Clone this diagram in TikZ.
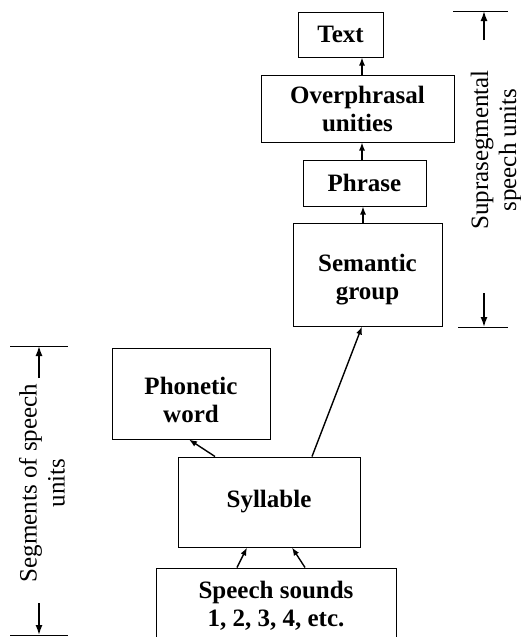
\documentclass[tikz,border=0pt]{standalone}
\usepackage{fontspec}
\setmainfont{Liberation Serif}
\usetikzlibrary{arrows.meta,calc}
\begin{document}
\begin{tikzpicture}[x=1pt,y=-1pt,
  box/.style={draw, line width=1pt, inner sep=0pt, align=center,
    font=\fontsize{25}{28}\selectfont\bfseries},
  link/.style={line width=1.4pt, -{Latex[length=8pt,width=6pt]}},
  dim/.style={line width=1.5pt, -{Latex[length=10pt,width=7pt]}},
  tick/.style={line width=1pt},
  side/.style={rotate=90, align=center, font=\fontsize{25}{28}\selectfont}]
\useasboundingbox (0,0) rectangle (521,637);
\begin{scope}
\clip (0,0) rectangle (521,637);
\node[box, minimum width=85pt, minimum height=45pt] (text) at (340.5,34.5) {Text};
\node[box, minimum width=193pt, minimum height=67pt] (over) at (357.5,108.5) {Overphrasal\\unities};
\node[box, minimum width=123pt, minimum height=46pt] (phrase) at (364.5,183) {Phrase};
\node[box, minimum width=149pt, minimum height=103pt] (sem) at (367.5,274.5) {\rule{0pt}{28pt}Semantic\\group};
\node[box, minimum width=158pt, minimum height=91pt] (phon) at (191,393.5) {\rule{0pt}{30pt}Phonetic\\word};
\node[box, minimum width=182pt, minimum height=90pt] (syl) at (269,502) {Syllable};
\node[box, minimum width=240pt, minimum height=76pt] (speech) at (276,606) {Speech sounds\\1, 2, 3, 4, etc.};
\end{scope}

\draw[link] ([xshift=4.5pt]over.north) -- ([xshift=21.5pt]text.south);
\draw[link] ([xshift=-2.5pt]phrase.north) -- ([xshift=4.5pt]over.south);
\draw[link] ([xshift=-4.5pt]sem.north) -- ([xshift=-1.5pt]phrase.south);
\draw[link] ([xshift=-54pt]syl.north) -- ([xshift=-2pt]phon.south);
\draw[link] ([xshift=43pt]syl.north) -- ([xshift=-5.5pt]sem.south);
\draw[link] ([xshift=-39pt]speech.north) -- ([xshift=-22pt]syl.south);
\draw[link] ([xshift=29pt]speech.north) -- ([xshift=23pt]syl.south);

% right dimension
\coordinate (rt1) at (453,11);
\coordinate (rt2) at (508,11);
\coordinate (rb1) at (458,327);
\coordinate (rb2) at (508,327);
\coordinate (ra) at (484,11);
\coordinate (ra0) at (484,40);
\coordinate (rb) at (484,327);
\coordinate (rb0) at (484,293);
\draw[tick] (rt1) -- (rt2);
\draw[tick] (rb1) -- (rb2);
\draw[dim] (ra0) -- (ra);
\draw[dim] (rb0) -- (rb);
\node[side] (supra) at (496,150) {Suprasegmental\\speech units};

% left dimension
\coordinate (lt1) at (10,346);
\coordinate (lt2) at (68,346);
\coordinate (lb1) at (10,635);
\coordinate (lb2) at (68,635);
\coordinate (la) at (39,346);
\coordinate (la0) at (39,378);
\coordinate (lb) at (39,635);
\coordinate (lb0) at (39,603);
\draw[tick] (lt1) -- (lt2);
\draw[tick] (lb1) -- (lb2);
\draw[dim] (la0) -- (la);
\draw[dim] (lb0) -- (lb);
\node[side] (segm) at (42,483) {Segments of speech\\units};
\end{tikzpicture}
\end{document}
